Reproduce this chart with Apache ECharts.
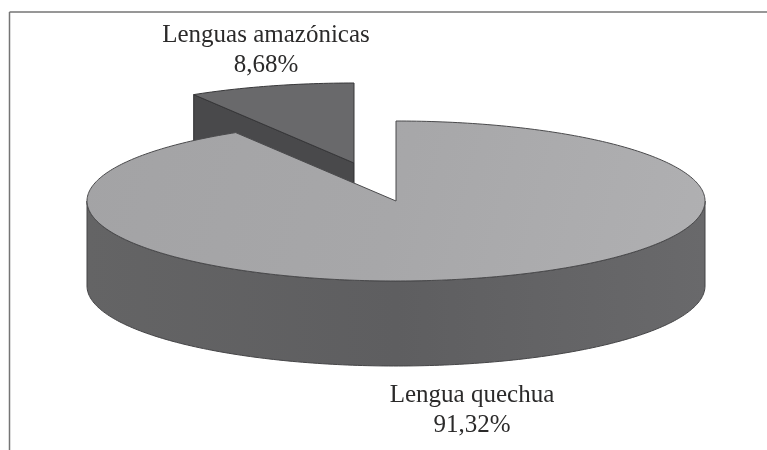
<!DOCTYPE html>
<html lang="es">
<head>
    <meta charset="UTF-8">
    <title>Lenguas</title>
    <script src="https://cdn.jsdelivr.net/npm/echarts@6/dist/echarts.min.js"></script>
    <style>
        html, body { margin: 0; padding: 0; background: #fff; }
        #main { width: 767px; height: 450px; }
    </style>
</head>
<body>
<div id="main"></div>
<script>
    // datos
    var categories = ['Lenguas amazónicas', 'Lengua quechua'];
    var shares = [8.68, 91.32];
    var shareLabels = ['8,68%', '91,32%'];

    // geometria de la torta en perspectiva
    var cx = 396, cy = 201, rx = 309, ry = 80, depth = 85;
    var explode = [[-42, -38], [0, 0]];
    var labelPos = [[266, 50], [472, 410]];
    var total = shares[0] + shares[1];

    // angulo medido desde las 12 en sentido horario
    function pt(a, dx, dy, down) {
        return [cx + dx + rx * Math.sin(a), cy + dy - ry * Math.cos(a) + (down || 0)];
    }
    function arc(a0, a1, dx, dy, down) {
        var pts = [];
        var n = Math.max(2, Math.ceil(Math.abs(a1 - a0) * 60));
        for (var i = 0; i <= n; i++) {
            pts.push(pt(a0 + (a1 - a0) * i / n, dx, dy, down));
        }
        return pts;
    }
    function poly(points, fill, stroke) {
        return {
            type: 'polygon',
            shape: { points: points },
            style: { fill: fill, stroke: stroke || '#3a3a3c', lineWidth: 1, lineJoin: 'round' }
        };
    }
    function wallGradient() {
        return new echarts.graphic.LinearGradient(0, 0, 1, 0, [
            { offset: 0, color: '#646465' },
            { offset: 0.5, color: '#5e5e60' },
            { offset: 1, color: '#69696b' }
        ]);
    }
    function topGradient() {
        return new echarts.graphic.LinearGradient(0, 0, 1, 1, [
            { offset: 0, color: '#a3a3a5' },
            { offset: 0.5, color: '#a7a7a9' },
            { offset: 1, color: '#b0b0b2' }
        ]);
    }

    function renderSlice(params, api) {
        var i = params.dataIndex;
        var span = api.value(1) / total * Math.PI * 2;
        var dx = explode[i][0], dy = explode[i][1];
        var center = [cx + dx, cy + dy];
        var children = [];
        if (i === 0) {
            // porcion separada: va de -span a 0
            var left = pt(-span, dx, dy);
            children.push(poly([left, center, [center[0], center[1] + depth], [left[0], left[1] + depth]], '#49494b', '#2f2f31'));
            children.push(poly(arc(-span, 0, dx, dy).concat([center]), '#69696b', '#38383a'));
        } else {
            // porcion grande: de 0 a span; pared visible de 90 a 270 grados
            var wall = arc(Math.PI / 2, Math.PI * 1.5, dx, dy).concat(arc(Math.PI * 1.5, Math.PI / 2, dx, dy, depth));
            children.push(poly(wall, wallGradient(), '#454547'));
            children.push(poly(arc(0, span, dx, dy).concat([center]), topGradient(), '#4a4a4c'));
        }
        var p = labelPos[i];
        children.push({
            type: 'text',
            style: {
                text: categories[i] + '\n' + shareLabels[i],
                x: p[0], y: p[1],
                align: 'center', verticalAlign: 'middle',
                fill: '#2b2a2a',
                font: '25px "Liberation Serif", serif',
                lineHeight: 30
            }
        });
        return { type: 'group', children: children };
    }

    var myChart = echarts.init(document.getElementById('main'), null, { renderer: 'canvas' });

    var option = {
        animation: false,
        backgroundColor: '#fff',
        graphic: [
            { type: 'line', shape: { x1: 9.5, y1: 12, x2: 767, y2: 12 }, style: { stroke: '#757575', lineWidth: 1.5 } },
            { type: 'line', shape: { x1: 9.5, y1: 12, x2: 9.5, y2: 450 }, style: { stroke: '#757575', lineWidth: 1.5 } }
        ],
        series: [{
            type: 'custom',
            coordinateSystem: 'none',
            renderItem: renderSlice,
            data: categories.map(function (c, i) { return [i, shares[i]]; })
        }]
    };

    myChart.setOption(option);
</script>
</body>
</html>
